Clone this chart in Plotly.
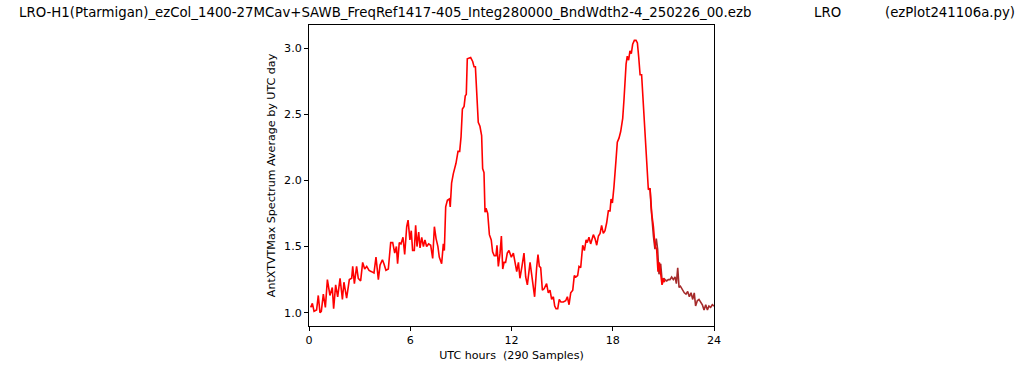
import plotly.graph_objects as go

# Red series (UTC hours, value)
red_hours = [0.10,0.20,0.30,0.45,0.55,0.65,0.73,0.85,0.97,1.09,1.24,1.38,1.46,1.58,1.70,1.84,1.98,2.07,2.23,2.39,
             2.53,2.59,2.69,2.82,2.92,3.06,3.18,3.30,3.42,3.56,3.71,3.85,3.97,4.11,4.21,4.35,4.44,4.56,4.70,4.84,
             4.96,5.08,5.18,5.25,5.35,5.45,5.57,5.67,5.79,5.87,5.98,6.06,6.14,6.24,6.32,6.40,6.50,6.58,6.68,6.78,
             6.87,6.97,7.09,7.21,7.33,7.43,7.53,7.64,7.72,7.86,7.96,8.02,8.10,8.20,8.32,8.37,8.45,8.55,8.71,8.83,
             8.93,9.01,9.09,9.19,9.26,9.32,9.38,9.58,9.70,9.78,9.86,9.94,10.03,10.13,10.23,10.29,10.37,10.43,10.49,10.59,
             10.69,10.80,10.88,10.98,11.08,11.14,11.22,11.32,11.40,11.48,11.56,11.65,11.75,11.85,11.99,12.11,12.21,12.31,12.41,12.50,
             12.62,12.74,12.84,12.94,13.10,13.24,13.37,13.49,13.57,13.65,13.73,13.83,13.93,14.08,14.18,14.28,14.38,14.48,14.56,14.64,
             14.74,14.83,14.93,15.07,15.21,15.31,15.41,15.51,15.63,15.72,15.82,15.92,16.00,16.10,16.22,16.32,16.42,16.49,16.59,16.69,
             16.77,16.85,16.95,17.05,17.15,17.25,17.34,17.44,17.54,17.64,17.74,17.84,17.90,17.98,18.07,18.13,18.19,18.27,18.37,18.47,
             18.59,18.67,18.73,18.79,18.86,18.94,19.02,19.10,19.18,19.28,19.38,19.46,19.54,19.62,19.71,19.81,19.89,19.97,20.05,20.11,
             20.21,20.31,20.41,20.50,20.60,20.68,20.76,20.84,20.92,21.00,21.08]
red_values = [1.04,1.07,1.01,1.02,1.13,1.00,1.01,1.14,1.04,1.25,1.13,1.19,1.03,1.21,1.12,1.26,1.10,1.23,1.11,1.25,
              1.26,1.35,1.22,1.35,1.26,1.24,1.38,1.33,1.35,1.32,1.31,1.30,1.42,1.25,1.36,1.40,1.37,1.32,1.33,1.53,
              1.53,1.45,1.50,1.37,1.53,1.52,1.57,1.44,1.65,1.70,1.55,1.62,1.47,1.47,1.66,1.50,1.61,1.49,1.57,1.50,
              1.55,1.50,1.52,1.51,1.41,1.65,1.56,1.50,1.42,1.37,1.52,1.47,1.80,1.85,1.86,1.80,1.98,2.05,2.13,2.22,
              2.22,2.33,2.54,2.56,2.64,2.65,2.92,2.93,2.90,2.86,2.86,2.67,2.44,2.41,2.34,2.09,2.06,1.76,1.79,1.75,
              1.59,1.55,1.46,1.43,1.43,1.51,1.35,1.45,1.58,1.33,1.38,1.38,1.45,1.47,1.42,1.45,1.36,1.31,1.38,1.26,
              1.35,1.45,1.27,1.21,1.38,1.26,1.12,1.34,1.44,1.35,1.34,1.17,1.18,1.22,1.15,1.17,1.10,1.12,1.05,1.03,
              1.03,1.10,1.08,1.08,1.09,1.12,1.06,1.15,1.17,1.28,1.27,1.28,1.35,1.34,1.51,1.47,1.55,1.53,1.57,1.52,
              1.55,1.59,1.56,1.51,1.58,1.60,1.66,1.60,1.62,1.68,1.77,1.77,1.86,1.83,1.95,2.03,2.15,2.29,2.32,2.37,
              2.47,2.62,2.77,2.88,2.94,2.91,2.98,2.96,3.03,3.06,3.06,3.04,2.93,2.80,2.80,2.57,2.38,2.19,2.02,1.93,
              1.94,1.75,1.65,1.51,1.48,1.31,1.38,1.28,1.21,1.26,1.23]

# Brown series (tail of the day)
brown_hours = [20.21,20.27,20.41,20.50,20.58,20.66,20.74,20.84,20.94,21.02,21.10,21.20,21.29,21.39,21.49,21.59,21.69,21.77,21.85,21.93,
               22.01,22.12,22.24,22.34,22.44,22.54,22.64,22.74,22.83,22.91,23.01,23.11,23.21,23.31,23.41,23.51,23.61,23.70,23.80,23.90,24.00]
brown_values = [1.94,1.80,1.58,1.48,1.56,1.48,1.29,1.37,1.22,1.26,1.25,1.24,1.25,1.25,1.27,1.25,1.27,1.22,1.34,1.19,
                1.20,1.17,1.15,1.14,1.16,1.12,1.15,1.10,1.15,1.05,1.09,1.10,1.08,1.06,1.02,1.06,1.02,1.05,1.04,1.06,1.05]

x_ticks = [0, 6, 12, 18, 24]
y_ticks = [1.0, 1.5, 2.0, 2.5, 3.0]

title_main = "LRO-H1(Ptarmigan)_ezCol_1400-27MCav+SAWB_FreqRef1417-405_Integ280000_BndWdth2-4_250226_00.ezb"
title_mid = "LRO"
title_right = "(ezPlot241106a.py)"
x_title = "UTC hours  (290 Samples)"
y_title = "AntXTVTMax Spectrum Average by UTC day"

FONT = "DejaVu Sans"

fig = go.Figure()
fig.add_trace(go.Scatter(x=brown_hours, y=brown_values, mode="lines",
                         line=dict(color="#A52A2A", width=1.6), showlegend=False))
fig.add_trace(go.Scatter(x=red_hours, y=red_values, mode="lines",
                         line=dict(color="#FF0000", width=1.6), showlegend=False))

W, H = 1024, 370
L, R, T, B = 309, 310, 25, 44
pw, ph = W - L - R, H - T - B

def px_to_paper_x(px):
    return (px - L) / pw

def py_to_paper_y(py):
    return (H - B - py) / ph

for txt, px in [(title_main, 17), (title_mid, 812), (title_right, 883)]:
    fig.add_annotation(text=txt, x=px_to_paper_x(px), y=py_to_paper_y(13), xref="paper", yref="paper",
                       xanchor="left", yanchor="middle", showarrow=False,
                       font=dict(family=FONT, size=13.3, color="black"))

axis_common = dict(showline=True, linecolor="black", linewidth=1, mirror=True,
                   ticks="outside", ticklen=4, tickwidth=1, tickcolor="black",
                   showgrid=False, zeroline=False,
                   tickfont=dict(family=FONT, size=11.1, color="black"))

fig.update_xaxes(range=[0, 24], tickvals=x_ticks, ticktext=[str(v) for v in x_ticks],
                 title=dict(text=x_title, font=dict(family=FONT, size=11.1, color="black"), standoff=4),
                 **axis_common)
fig.update_yaxes(range=[0.899, 3.176], tickvals=y_ticks, ticktext=[f"{v:.1f}" for v in y_ticks],
                 title=dict(text=y_title, font=dict(family=FONT, size=11.1, color="black"), standoff=6),
                 **axis_common)

fig.update_layout(width=W, height=H, margin=dict(l=L, r=R, t=T, b=B, autoexpand=False),
                  paper_bgcolor="white", plot_bgcolor="white",
                  font=dict(family=FONT, color="black"))

fig.write_html("out.html", config={"displayModeBar": False},
               post_script="document.body.style.margin='0';")
